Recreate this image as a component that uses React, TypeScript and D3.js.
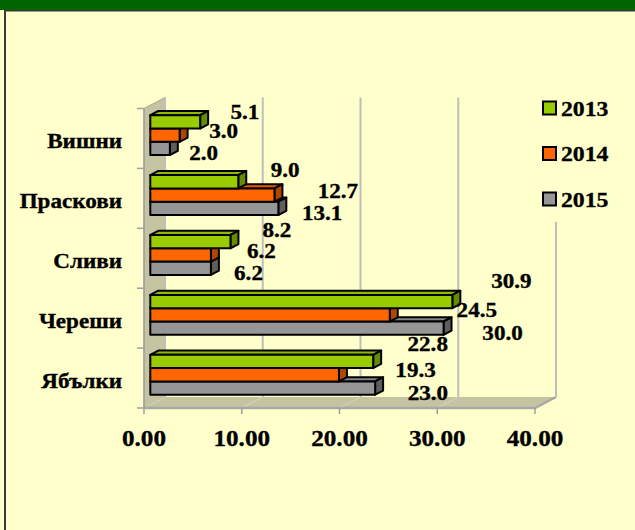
import React from 'react';
import * as d3 from 'd3';

const categories = ['Вишни', 'Праскови', 'Сливи', 'Череши', 'Ябълки'];
const seriesNames = ['2013', '2014', '2015'];
const values2013 = [5.1, 9.0, 8.2, 30.9, 22.8];
const values2014 = [3.0, 12.7, 6.2, 24.5, 19.3];
const values2015 = [2.0, 13.1, 6.2, 30.0, 23.0];
const xTicks = [0, 10, 20, 30, 40];
const xTickLabels = ['0.00', '10.00', '20.00', '30.00', '40.00'];

const W = 635;
const H = 530;
const FONT = "'Liberation Serif', 'Times New Roman', serif";

const seriesValues = [values2013, values2014, values2015];
const frontColors = ['#99CC00', '#FF6600', '#969696'];
const topColors = ['#8CBB00', '#E85D00', '#858585'];
const sideColors = ['#668A00', '#B04600', '#5E5E5E'];

// per-series label offset rules (Excel 3D label placement approximation)
const labelDx = [(v: number) => 42 + 0.55 * v, (v: number) => 38 + 2 * v, (v: number) => 32 + 0.9 * v];
const labelDy = [(v: number) => -8 - 0.4 * v, (_v: number) => -4.5, (_v: number) => 4.5];

export default function App() {
  const DX = 21;
  const DY = -11;
  const top = 108.5;
  const bottom = 408;
  const x = d3.scaleLinear().domain([0, 40]).range([144, 535]);
  const y0 = d3.scaleBand<string>().domain(categories).range([top, bottom]).paddingInner(0).paddingOuter(0);
  const y1 = d3
    .scaleBand<string>()
    .domain(seriesNames)
    .range([0, y0.bandwidth()])
    .paddingInner(0)
    .paddingOuter(0.75);
  const f1 = 0.3;
  const f2 = 0.68;
  const pt = (px: number, py: number, f: number): [number, number] => [px + f * DX, py + f * DY];
  const poly = (pts: [number, number][]) => pts.map((p) => p.join(',')).join(' ');

  const wall = poly([pt(x(0), top, 0), pt(x(0), top, 1), pt(x(0), bottom, 1), pt(x(0), bottom, 0)]);
  const floor = poly([pt(x(0), bottom, 0), pt(x(40), bottom, 0), pt(x(40), bottom, 1), pt(x(0), bottom, 1)]);

  const textStyle = { fontFamily: FONT, fontWeight: 'bold' as const, fill: '#000', stroke: '#000', strokeWidth: 0.35 };

  const bars: React.ReactNode[] = [];
  const labels: React.ReactNode[] = [];
  categories.forEach((c, ci) => {
    [2, 1, 0].forEach((si) => {
      const v = seriesValues[si][ci];
      const yt = (y0(c) as number) + (y1(seriesNames[si]) as number);
      const h = y1.bandwidth();
      const x0 = x(0);
      const xv = x(v);
      const front = poly([pt(x0, yt, f1), pt(xv, yt, f1), pt(xv, yt + h, f1), pt(x0, yt + h, f1)]);
      const topFace = poly([pt(x0, yt, f1), pt(xv, yt, f1), pt(xv, yt, f2), pt(x0, yt, f2)]);
      const side = poly([pt(xv, yt, f1), pt(xv, yt, f2), pt(xv, yt + h, f2), pt(xv, yt + h, f1)]);
      bars.push(
        <g key={`b-${ci}-${si}`} stroke="#000" strokeWidth={2} strokeLinejoin="round">
          <polygon points={topFace} fill={topColors[si]} />
          <polygon points={side} fill={sideColors[si]} />
          <polygon points={front} fill={frontColors[si]} />
        </g>
      );
      const [ex, ey] = pt(xv, yt + h / 2, f1);
      const lx = ex + labelDx[si](v);
      const ly = ey + labelDy[si](v) + 7.1;
      labels.push(
        <text
          key={`l-${ci}-${si}`}
          transform={`translate(${lx},${ly}) scale(1.1,1)`}
          textAnchor="middle"
          fontSize={21}
          {...textStyle}
        >
          {v.toFixed(1)}
        </text>
      );
    });
  });

  const bandEdges = categories.map((c) => y0(c) as number).concat([bottom]);

  return (
    <svg
      width={W}
      height={H}
      style={{ position: 'absolute', left: 0, top: 0, display: 'block' }}
      xmlns="http://www.w3.org/2000/svg"
    >
      <rect x={0} y={0} width={W} height={H} fill="#FFFFCC" />
      <rect x={0} y={0} width={W} height={10} fill="#006400" />
      <rect x={4} y={10} width={W - 4} height={1.5} fill="#3A3A3A" />
      <rect x={4} y={10} width={2} height={H - 10} fill="#3A3A3A" />

      {/* wall and floor */}
      <polygon points={wall} fill="#C4C4A2" stroke="#A6A690" strokeWidth={1} />
      <polygon points={floor} fill="#C4C4A2" />
      {xTicks.map((t) => {
        const [ax, ay] = pt(x(t), bottom, 0);
        const [bx, by] = pt(x(t), bottom, 1);
        return <line key={`fg-${t}`} x1={ax} y1={ay} x2={bx} y2={by} stroke="#D6D6C2" strokeWidth={1} />;
      })}
      {/* back gridlines */}
      {xTicks.map((t) => {
        const [ax, ay] = pt(x(t), top, 1);
        const [bx, by] = pt(x(t), bottom, 1);
        return <line key={`g-${t}`} x1={ax} y1={ay} x2={bx} y2={by} stroke="#BEBEBE" strokeWidth={2} />;
      })}
      {/* floor front edge */}
      <polyline
        points={poly([pt(x(0), bottom, 0), pt(x(40), bottom, 0), pt(x(40), bottom, 1)])}
        fill="none"
        stroke="#A8A8A8"
        strokeWidth={2.5}
      />
      <line x1={x(0)} y1={top} x2={x(0)} y2={bottom} stroke="#A0A0A0" strokeWidth={1.5} />

      {/* ticks */}
      {xTicks.map((t) => (
        <line key={`t-${t}`} x1={x(t)} y1={bottom} x2={x(t)} y2={bottom + 6} stroke="#A0A0A0" strokeWidth={1.5} />
      ))}
      {bandEdges.map((e, i) => (
        <line key={`lt-${i}`} x1={x(0) - 7} y1={e} x2={x(0)} y2={e} stroke="#A0A0A0" strokeWidth={1.5} />
      ))}

      {bars}

      {/* axis labels */}
      {xTicks.map((t, i) => (
        <text
          key={`xl-${t}`}
          transform={`translate(${x(t)},446) scale(1.05,1)`}
          textAnchor="middle"
          fontSize={24}
          {...textStyle}
        >
          {xTickLabels[i]}
        </text>
      ))}
      {categories.map((c) => (
        <text
          key={`cl-${c}`}
          transform={`translate(122,${(y0(c) as number) + y0.bandwidth() / 2 + 9.5}) scale(1.1,1)`}
          textAnchor="end"
          fontSize={21}
          {...textStyle}
        >
          {c}
        </text>
      ))}

      {labels}

      {/* legend */}
      <rect x={532} y={82} width={103} height={140} fill="#FFFFCC" />
      {seriesNames.map((s, i) => {
        const cy = 108 + i * 45.5;
        return (
          <g key={`lg-${s}`}>
            <rect x={543} y={cy - 6.5} width={13} height={13} fill={frontColors[i]} stroke="#000" strokeWidth={2} />
            <text transform={`translate(561,${cy + 7.5}) scale(1.08,1)`} fontSize={22} {...textStyle}>
              {s}
            </text>
          </g>
        );
      })}
    </svg>
  );
}
